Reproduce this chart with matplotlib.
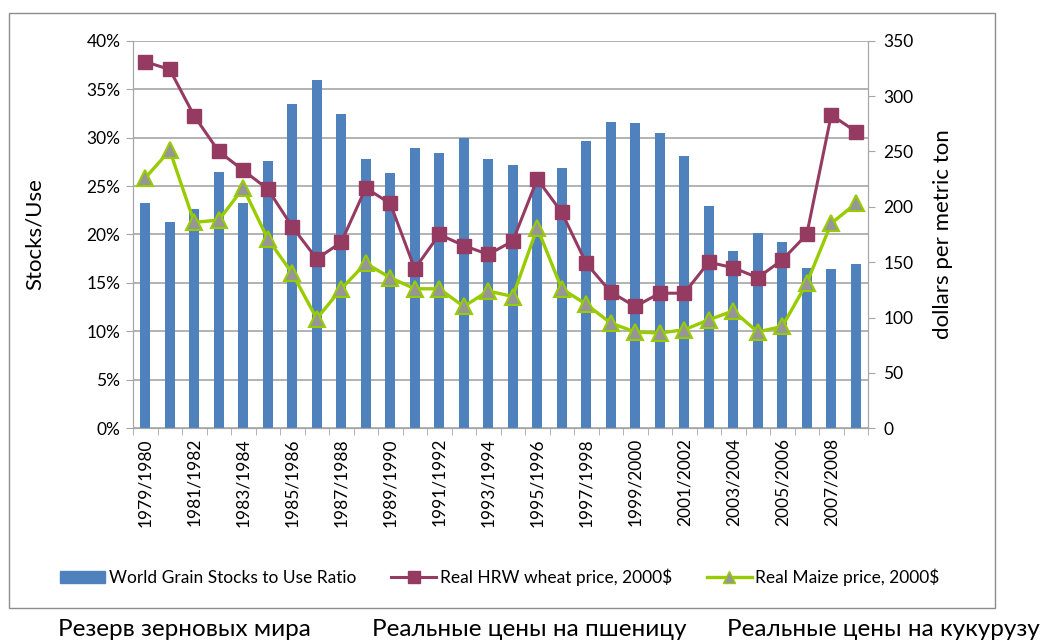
import matplotlib.pyplot as plt
from matplotlib.patches import Rectangle
from matplotlib.lines import Line2D
import numpy as np

plt.rcParams['font.family'] = ['Lato', 'Noto Sans', 'DejaVu Sans']

seasons = ['%d/%d' % (y, y + 1) for y in range(1979, 2009)]

stocks_use = [23.2, 21.3, 22.6, 26.5, 23.2, 27.6, 33.5, 35.9, 32.4, 27.8,
              26.3, 28.9, 28.4, 30.0, 27.8, 27.2, 25.6, 26.9, 29.7, 31.6,
              31.5, 30.5, 28.1, 22.9, 18.3, 20.2, 19.2, 16.5, 16.4, 17.0]

wheat = [331, 324, 282, 250, 233, 216, 182, 153, 168, 217,
         203, 144, 175, 165, 157, 169, 225, 195, 149, 123,
         110, 122, 122, 150, 145, 136, 152, 175, 283, 268]

maize = [226, 251, 186, 188, 217, 171, 140, 99, 126, 149,
         136, 126, 126, 110, 124, 119, 181, 126, 112, 95,
         87, 86, 89, 98, 106, 87, 92, 131, 185, 203]

bar_color = '#4F81BD'
wheat_color = '#953B62'
maize_color = '#99CC00'
grid_color = '#A6A6A6'

fig = plt.figure(figsize=(10.42, 6.42), dpi=100)
fig.patches.append(Rectangle((9 / 1042, 1 - 608 / 642), 986 / 1042, 595 / 642,
                             transform=fig.transFigure, fill=False,
                             edgecolor='#8C8C8C', linewidth=1))

ax = fig.add_axes([133 / 1042, 1 - 428.3 / 642, 735 / 1042, 387.6 / 642])
x = np.arange(len(seasons))
ax.bar(x, stocks_use, width=0.4, color=bar_color, zorder=2)
ax.set_xlim(-0.5, len(seasons) - 0.5)
ax.set_ylim(0, 40)
ax.set_yticks(range(0, 41, 5))
ax.set_yticklabels(['%d%%' % v for v in range(0, 41, 5)], fontsize=12.5)
ax.yaxis.grid(True, color=grid_color, linewidth=1.2, zorder=0)
ax.set_axisbelow(True)
ax.set_ylabel('Stocks/Use', fontsize=16, labelpad=30)

ax.set_xticks(x[::2])
ax.set_xticklabels(seasons[::2], rotation=90, fontsize=12.5)
ax.tick_params(axis='x', length=0, pad=7)
ax.set_xticks(np.arange(-0.5, len(seasons)), minor=True)
ax.tick_params(axis='x', which='minor', length=5, color=grid_color)
ax.tick_params(axis='y', length=5, color=grid_color, pad=4)

ax.spines['top'].set_visible(False)
for s in ['left', 'bottom', 'right']:
    ax.spines[s].set_color(grid_color)

ax2 = ax.twinx()
ax2.plot(x, wheat, color=wheat_color, linewidth=2.2, marker='s', markersize=10,
         markerfacecolor=wheat_color, markeredgecolor=wheat_color, zorder=3)
ax2.plot(x, maize, color=maize_color, linewidth=2.4, marker='^', markersize=11,
         markerfacecolor='#969696', markeredgecolor=maize_color,
         markeredgewidth=1.5, zorder=3)
ax2.set_ylim(0, 350)
ax2.set_yticks(range(0, 351, 50))
ax2.set_yticklabels([str(v) for v in range(0, 351, 50)], fontsize=12.5)
ax2.tick_params(axis='y', length=5, color=grid_color, pad=6)
ax2.set_ylabel('dollars per metric ton', fontsize=16, labelpad=14)
ax2.spines['top'].set_visible(False)
for s in ['left', 'bottom', 'right']:
    ax2.spines[s].set_color(grid_color)

handles = [
    Rectangle((0, 0), 1, 1, color=bar_color),
    Line2D([], [], color=wheat_color, linewidth=2.2, marker='s', markersize=9),
    Line2D([], [], color=maize_color, linewidth=2.4, marker='^', markersize=9,
           markerfacecolor='#969696', markeredgecolor=maize_color),
]
labels = ['World Grain Stocks to Use Ratio', 'Real HRW wheat price, 2000$',
          'Real Maize price, 2000$']
fig.legend(handles, labels, loc='center', bbox_to_anchor=(500 / 1042, 1 - 577 / 642),
           ncol=3, frameon=False, fontsize=12.5, handlelength=2.6,
           handletextpad=0.2, columnspacing=2.0)

fig.text(184 / 1042, 1 - 630 / 642, 'Резерв зерновых мира', fontsize=17.5,
         ha='center', va='center')
fig.text(529 / 1042, 1 - 630 / 642, 'Реальные цены на пшеницу', fontsize=17.5,
         ha='center', va='center')
fig.text(883 / 1042, 1 - 630 / 642, 'Реальные цены на кукурузу', fontsize=17.5,
         ha='center', va='center')

fig.savefig('out.png', dpi=100)
